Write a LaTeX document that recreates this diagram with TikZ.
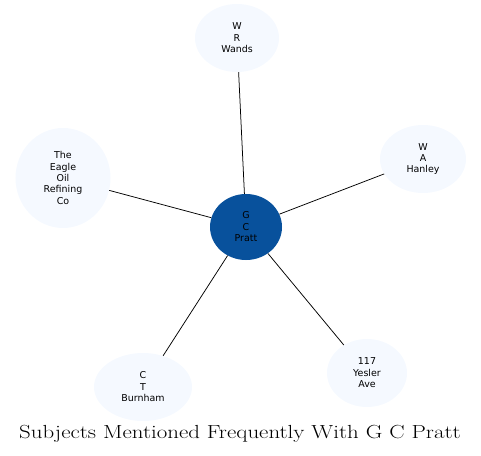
\documentclass[tikz,border=0pt]{standalone}
\usepackage{fontspec}
\newfontfamily\nodefont{DejaVu Sans}
\usetikzlibrary{shapes.geometric}
\definecolor{lightfill}{RGB}{245,249,255}
\definecolor{darkfill}{RGB}{8,81,156}
\tikzset{
  subj/.style={ellipse, fill=lightfill, draw=none, inner sep=0pt, align=center,
    font=\nodefont\fontsize{9.5}{11.5}\selectfont},
  hub/.style={subj, fill=darkfill},
  link/.style={draw=black, line width=0.75bp}
}
\begin{document}
\begin{tikzpicture}[x=1bp,y=-1bp]
\useasboundingbox (0,0) rectangle (481,456);
\node[hub, minimum width=72bp, minimum height=66bp] (pratt) at (246,227) {G\\C\\Pratt};
\node[subj, minimum width=84bp, minimum height=68bp] (wands) at (237,38) {W\\R\\Wands};
\node[subj, minimum width=95bp, minimum height=100bp] (eagle) at (63,178) {The\\Eagle\\Oil\\Refining\\Co};
\node[subj, minimum width=86bp, minimum height=68bp] (hanley) at (423,159) {W\\A\\Hanley};
\node[subj, minimum width=98bp, minimum height=68bp] (burnham) at (143,387) {C\\T\\Burnham};
\node[subj, minimum width=80bp, minimum height=68bp] (yesler) at (367,373) {117\\Yesler\\Ave};
\draw[link] (pratt) -- (wands);
\draw[link] (pratt) -- (eagle);
\draw[link] (pratt) -- (hanley);
\draw[link] (pratt) -- (burnham);
\draw[link] (pratt) -- (yesler);
\node[font=\fontsize{19}{22}\selectfont, inner sep=0pt] (title) at (240,434) {\scalebox{1.21}[1]{Subjects Mentioned Frequently With G C Pratt}};
\end{tikzpicture}
\end{document}
